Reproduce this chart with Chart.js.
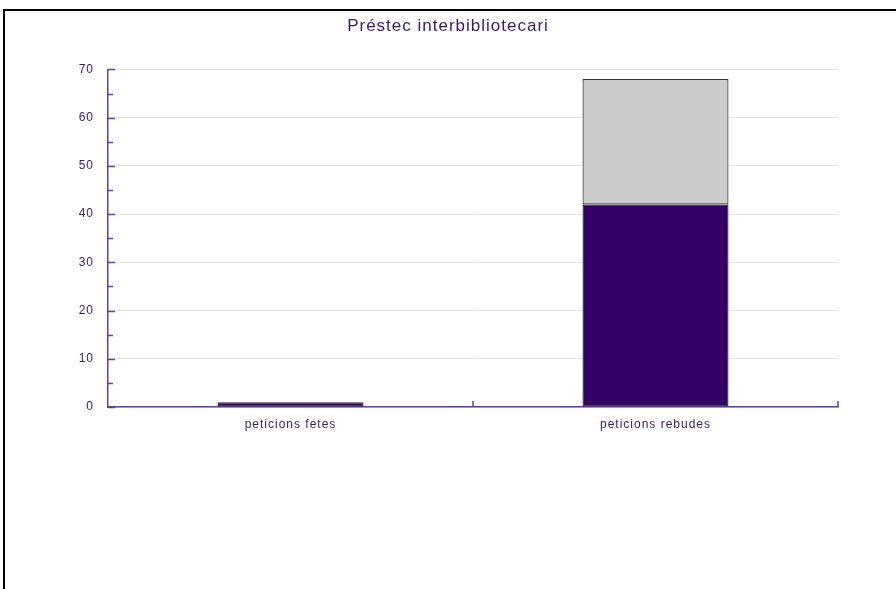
<!DOCTYPE html>
<html lang="ca">

<head>
    <meta charset="UTF-8" />
    <title>Préstec interbibliotecari</title>
    <script src="https://cdn.jsdelivr.net/npm/chart.js"></script>
    <style>
        body {
            margin: 0;
            background: #fff;
            font-family: 'Liberation Sans', Arial, sans-serif;
        }

        .frame {
            position: absolute;
            left: 3px;
            top: 9px;
            right: 0;
            bottom: 0;
            border-top: 2px solid #000;
            border-left: 2px solid #000;
        }

        .wrap {
            position: absolute;
            left: 0;
            top: 0;
            width: 896px;
            height: 589px;
        }
    </style>
</head>

<body>
    <div class="frame"></div>
    <div class="wrap"><canvas id="ill"></canvas></div>

    <script>
        const categories = ['peticions fetes', 'peticions rebudes'];
        const seriesLower = [1, 42];
        const seriesUpper = [0, 26];
        const yTicks = [0, 10, 20, 30, 40, 50, 60, 70];

        const purple = '#3a1670';
        const axisPurple = '#6a3d9a';
        const fontFamily = "'Liberation Sans', Arial, sans-serif";

        // spaced-out text like the original + little inward axis ticks
        const axisDeco = {
            id: 'axisDeco',
            beforeDraw(chart) {
                chart.ctx.letterSpacing = '1px';
            },
            afterDraw(chart) {
                const ctx = chart.ctx;
                const y = chart.scales.y;
                const x = chart.scales.x;
                const area = chart.chartArea;
                ctx.save();
                ctx.letterSpacing = '0px';
                ctx.strokeStyle = axisPurple;
                ctx.lineWidth = 1.5;
                ctx.beginPath();
                for (let v = 0; v <= 70; v += 5) {
                    const py = Math.round(y.getPixelForValue(v)) + 0.5;
                    const len = v % 10 === 0 ? 7 : 5;
                    ctx.moveTo(area.left, py);
                    ctx.lineTo(area.left + len, py);
                }
                const mid = (x.getPixelForTick(0) + x.getPixelForTick(1)) / 2;
                [mid, area.right].forEach(px => {
                    ctx.moveTo(px, area.bottom);
                    ctx.lineTo(px, area.bottom - 6);
                });
                ctx.stroke();
                ctx.restore();
            }
        };

        new Chart(document.getElementById('ill'), {
            type: 'bar',
            data: {
                labels: categories,
                datasets: [
                    {
                        label: 'sèrie 1',
                        data: seriesLower,
                        backgroundColor: '#330066',
                        borderColor: '#222222',
                        borderWidth: 1.2,
                        borderSkipped: false
                    },
                    {
                        label: 'sèrie 2',
                        data: seriesUpper,
                        backgroundColor: '#cccccc',
                        borderColor: '#333333',
                        borderWidth: 1.2,
                        borderSkipped: false
                    }
                ]
            },
            options: {
                responsive: true,
                maintainAspectRatio: false,
                animation: false,
                layout: { padding: 0 },
                datasets: {
                    bar: {
                        categoryPercentage: 1,
                        barPercentage: 0.4
                    }
                },
                plugins: {
                    legend: { display: false },
                    tooltip: { enabled: false },
                    title: {
                        display: true,
                        text: 'Préstec interbibliotecari',
                        color: purple,
                        font: { family: fontFamily, size: 17, weight: 'normal', lineHeight: 1.2 },
                        padding: { top: 16, bottom: 33 }
                    }
                },
                scales: {
                    x: {
                        stacked: true,
                        grid: { display: false, drawTicks: false },
                        border: { display: true, color: axisPurple, width: 1.5 },
                        ticks: {
                            color: purple,
                            padding: 10,
                            font: { family: fontFamily, size: 12 }
                        },
                        afterFit(scale) {
                            scale.height = 182;
                        }
                    },
                    y: {
                        stacked: true,
                        min: 0,
                        max: 70,
                        afterBuildTicks(scale) {
                            scale.ticks = yTicks.map(v => ({ value: v }));
                        },
                        grid: { color: '#e3e3e3', drawTicks: false },
                        border: { display: true, color: axisPurple, width: 1.5 },
                        ticks: {
                            color: purple,
                            padding: 14,
                            font: { family: fontFamily, size: 12 }
                        },
                        afterFit(scale) {
                            scale.width = 108;
                        }
                    },
                    // empty right gutter so the title stays centred on the page
                    gutter: {
                        type: 'linear',
                        position: 'right',
                        display: true,
                        grid: { display: false, drawTicks: false },
                        border: { display: false },
                        ticks: { display: false },
                        afterFit(scale) {
                            scale.width = 58;
                        }
                    }
                }
            },
            plugins: [axisDeco]
        });
    </script>
</body>

</html>
